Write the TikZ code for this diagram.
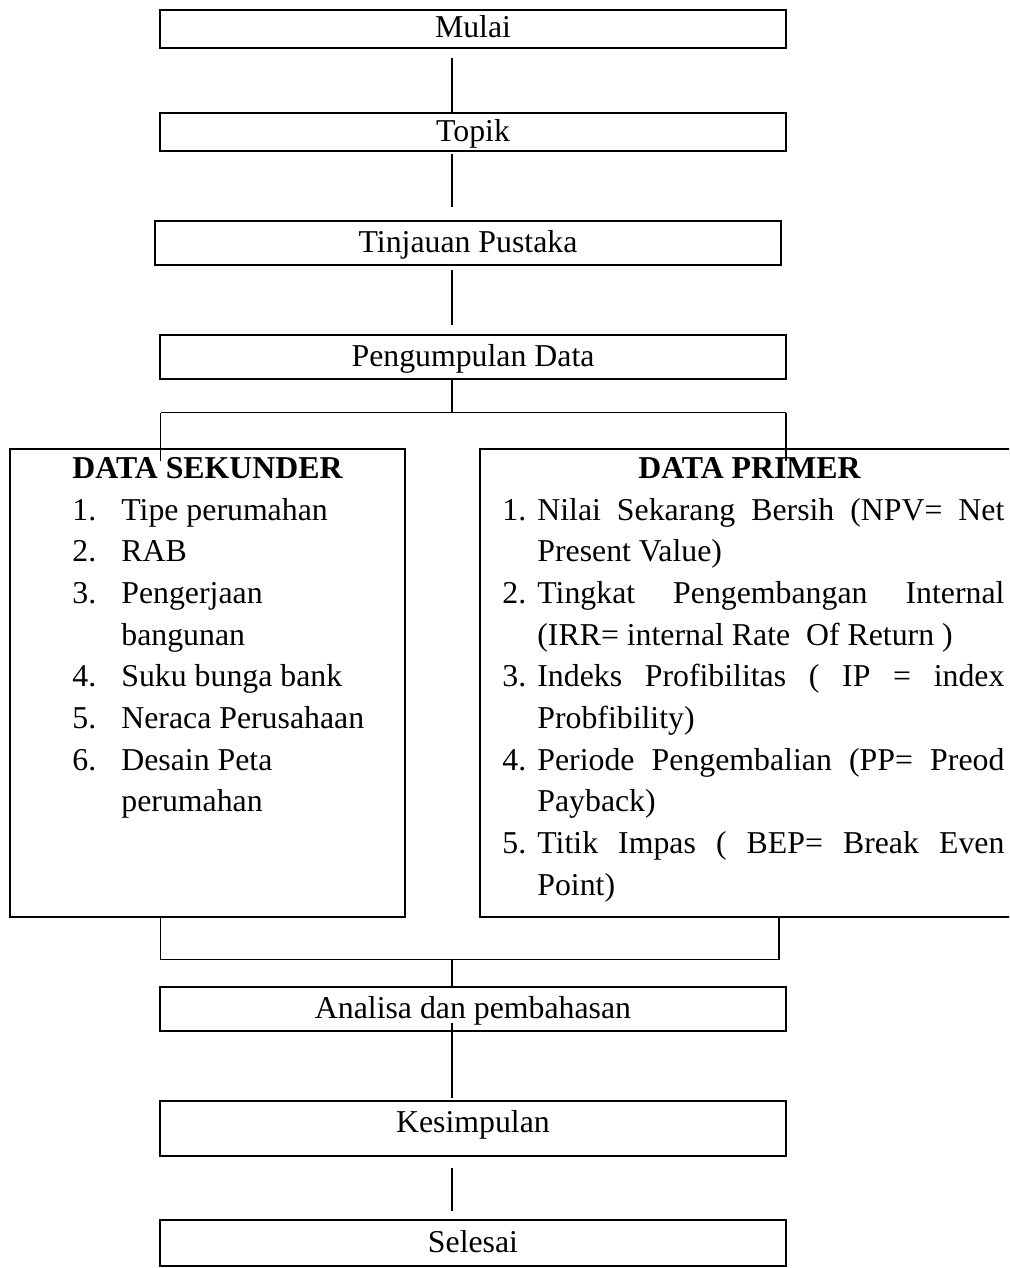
\documentclass[tikz,border=0pt]{standalone}
\usepackage{fontspec}
\setmainfont{Liberation Serif}
\usetikzlibrary{positioning}

\begin{document}
\begin{tikzpicture}[x=0.5pt,y=-0.5pt,
    every node/.style={font={\fontsize{15.9}{20.85}\selectfont}},
    stage/.style={draw,rectangle,line width=0.95pt,inner sep=0pt,
        minimum width=313pt,minimum height=22pt,text height=11pt,text depth=2pt},
    group/.style={draw,rectangle,line width=0.95pt,inner sep=0pt,minimum height=234pt},
    conn/.style={line width=0.75pt}]
    \useasboundingbox (0,0) rectangle (1009,1268);
    \clip (0,0) rectangle (1009,1268);

    \node[stage,minimum height=19pt] (mulai) at (473,29) {Mulai};
    \node[stage,minimum height=19pt] (topik) at (473,132) {Topik};
    \node[stage] (tinjauan) at (468,243) {Tinjauan Pustaka};
    \node[stage] (kumpul) at (473,357) {Pengumpulan Data};

    % kedua kelompok data
    \node[group,minimum width=197.5pt] (sekunder) at (207.5,683) {};
    \node[group,minimum width=269.5pt] (primer) at (749.5,683) {};
    \node[anchor=base] (sektitle) at (207.5,478) {\bfseries DATA SEKUNDER};
    \node[anchor=base] (primtitle) at (749.5,478) {\bfseries DATA PRIMER};
    \node[anchor=base west,inner sep=0pt] (seklist) at (72,520) {%
        \begin{tabular}[t]{@{}p{24.5pt}@{}l@{}}
        1. & Tipe perumahan\\
        2. & RAB\\
        3. & Pengerjaan\\
           & bangunan\\
        4. & Suku bunga bank\\
        5. & Neraca Perusahaan\\
        6. & Desain Peta\\
           & perumahan
        \end{tabular}};
    \node[anchor=base west,inner sep=0pt] (primlist) at (502,520) {%
        \begin{tabular}[t]{@{}p{17.5pt}@{}l@{}}
        1. & \makebox[233.5pt][s]{Nilai Sekarang Bersih (NPV= Net}\\
           & Present Value)\\
        2. & \makebox[233.5pt][s]{Tingkat Pengembangan Internal}\\
           & (IRR= internal Rate~ Of Return )\\
        3. & \makebox[233.5pt][s]{Indeks Profibilitas ( IP = index}\\
           & Probfibility)\\
        4. & \makebox[233.5pt][s]{Periode Pengembalian (PP= Preod}\\
           & Payback)\\
        5. & \makebox[233.5pt][s]{Titik Impas ( BEP= Break Even}\\
           & Point)
        \end{tabular}};

    \node[stage] (analisa) at (473,1009) {Analisa dan pembahasan};
    \node[stage,minimum height=27.5pt,text depth=7.5pt] (simpul) at (473,1128.5) {Kesimpulan};
    \node[stage,minimum height=23pt] (selesai) at (473,1243) {Selesai};

    \coordinate (axis) at (452,0);
    \coordinate (splitL) at (160.5,412.5);
    \coordinate (splitR) at (786,412.5);
    \coordinate (joinL) at (160.5,959.5);
    \coordinate (joinR) at (779,959.5);

    \path[conn]
        (mulai.south -| axis) edge[shorten <=4.5pt] (topik.north -| axis)
        (topik.south -| axis) edge[shorten <=1pt,shorten >=6.5pt] (tinjauan.north -| axis)
        (tinjauan.south -| axis) edge[shorten <=2pt,shorten >=4.5pt] (kumpul.north -| axis)
        (kumpul.south -| axis) edge (axis |- splitL)
        (splitL) edge (splitR)
        (splitL) edge[shorten >=-6.5pt] (splitL |- sekunder.north)
        (splitR) edge[shorten >=-6.5pt] (splitR |- primer.north)
        (joinL |- sekunder.south) edge (joinL)
        (joinR |- primer.south) edge (joinR)
        (joinL) edge (joinR)
        (axis |- joinL) edge (analisa.north -| axis)
        (analisa.south -| axis) edge[shorten <=-4.5pt,shorten >=1pt] (simpul.north -| axis)
        (simpul.south -| axis) edge[shorten <=5.5pt,shorten >=4pt] (selesai.north -| axis);
\end{tikzpicture}
\end{document}
